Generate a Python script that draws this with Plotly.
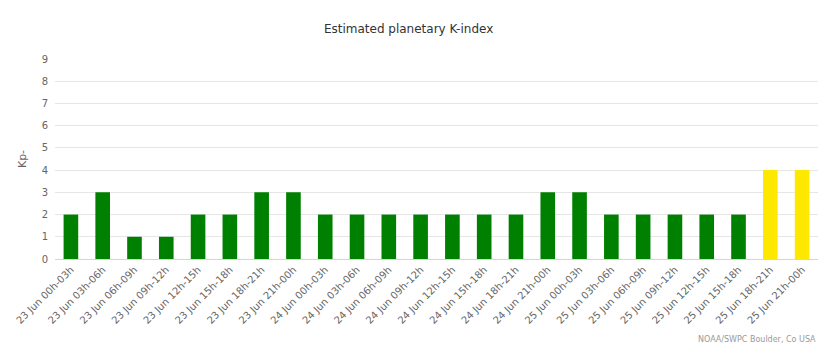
import plotly.graph_objects as go

categories = ["23 Jun 00h-03h", "23 Jun 03h-06h", "23 Jun 06h-09h", "23 Jun 09h-12h",
              "23 Jun 12h-15h", "23 Jun 15h-18h", "23 Jun 18h-21h", "23 Jun 21h-00h",
              "24 Jun 00h-03h", "24 Jun 03h-06h", "24 Jun 06h-09h", "24 Jun 09h-12h",
              "24 Jun 12h-15h", "24 Jun 15h-18h", "24 Jun 18h-21h", "24 Jun 21h-00h",
              "25 Jun 00h-03h", "25 Jun 03h-06h", "25 Jun 06h-09h", "25 Jun 09h-12h",
              "25 Jun 12h-15h", "25 Jun 15h-18h", "25 Jun 18h-21h", "25 Jun 21h-00h"]
kp_values = [2, 3, 1, 1, 2, 2, 3, 3, 2, 2, 2, 2, 2, 2, 2, 3, 3, 2, 2, 2, 2, 2, 4, 4]
y_ticks = [0, 1, 2, 3, 4, 5, 6, 7, 8, 9]

colors = ["#FFE800" if v >= 4 else "#008000" for v in kp_values]

font_family = "DejaVu Sans, Verdana, sans-serif"

fig = go.Figure(go.Bar(x=categories, y=kp_values, marker=dict(color=colors, line=dict(width=0)),
                       hoverinfo="x+y"))

fig.update_layout(
    width=839, height=347,
    margin=dict(l=55, r=21, t=59, b=88),
    paper_bgcolor="white", plot_bgcolor="white",
    bargap=0.54,
    showlegend=False,
    font=dict(family=font_family, color="#666666"),
    title=dict(text="Estimated planetary K-index", x=0.487, xanchor="center", y=0.918, yanchor="middle",
               font=dict(size=12, color="#333333", family=font_family)),
    xaxis=dict(type="category", tickangle=-45, tickfont=dict(size=10, color="#666666"),
               showgrid=False, showline=True, linecolor="#ccd6eb", linewidth=1, ticks=""),
    yaxis=dict(range=[0, 9], tickvals=y_ticks, tickfont=dict(size=10, color="#666666"),
               showgrid=True, gridcolor="#e6e6e6", zeroline=False, showline=False,
               ticklabelstandoff=6,
               title=dict(text="Kp-", font=dict(size=11, color="#666666"), standoff=12)),
    annotations=[dict(text="NOAA/SWPC Boulder, Co USA", xref="paper", yref="paper",
                      x=1.0, y=-0.40, xanchor="right", yanchor="middle", showarrow=False,
                      font=dict(size=8, color="#999999", family=font_family))],
)

fig.write_html("out.html")
